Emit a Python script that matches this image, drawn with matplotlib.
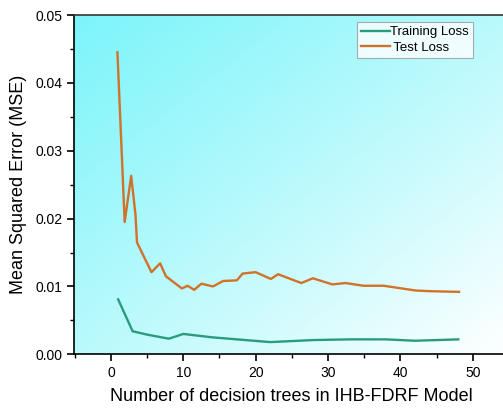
import numpy as np
import matplotlib
matplotlib.use("Agg")
import matplotlib.pyplot as plt
from matplotlib.ticker import MultipleLocator

plt.rcParams['font.family'] = ['Liberation Sans', 'DejaVu Sans']

# data
train_x = [1, 3, 5, 8, 10, 14, 22, 28, 33, 38, 42, 48]
train_y = [0.0081, 0.0034, 0.0029, 0.0023, 0.0030, 0.0025, 0.0018,
           0.0021, 0.0022, 0.0022, 0.0020, 0.0022]

test_x = [0.9, 1.9, 2.8, 3.4, 3.6, 5.6, 6.8, 7.6, 9.8, 10.6, 11.5, 12.5,
          14.1, 15.5, 17.4, 18.2, 20.0, 22.1, 23.1, 26.3, 27.9, 30.6,
          32.4, 34.9, 37.7, 42.1, 44.1, 48.1]
test_y = [0.0445, 0.0195, 0.0263, 0.0205, 0.0165, 0.0121, 0.0134, 0.0115,
          0.0097, 0.0101, 0.0095, 0.0104, 0.0100, 0.0108, 0.0109, 0.0119,
          0.0121, 0.0111, 0.0118, 0.0105, 0.0112, 0.0103, 0.0105, 0.0101,
          0.0101, 0.0094, 0.0093, 0.0092]

fig = plt.figure(figsize=(5.03, 4.08), dpi=100)
ax = fig.add_axes([74 / 503, 53.7 / 408, 435 / 503, 339.3 / 408])

# diagonal cyan -> white background
n = 200
u, v = np.meshgrid(np.linspace(0, 1, n), np.linspace(1, 0, n))
t = np.clip((u + (1 - v)) / 2, 0, 1) ** 1.1
cyan = np.array([0.49, 0.96, 0.98])
white = np.array([1.0, 1.0, 1.0])
img = cyan[None, None, :] * (1 - t[..., None]) + white[None, None, :] * t[..., None]
ax.imshow(img, extent=[0, 1, 0, 1], transform=ax.transAxes, aspect='auto', zorder=0)

ax.plot(train_x, train_y, color='#2a9c7e', lw=1.7, label='Training Loss', zorder=3)
ax.plot(test_x, test_y, color='#d0722a', lw=1.7, label=' Test Loss', zorder=3)

ax.set_xlim(-5.1, 55)
ax.set_ylim(0, 0.05)
ax.xaxis.set_major_locator(MultipleLocator(10))
ax.xaxis.set_minor_locator(MultipleLocator(5))
ax.yaxis.set_major_locator(MultipleLocator(0.01))
ax.yaxis.set_minor_locator(MultipleLocator(0.005))
ax.yaxis.set_major_formatter(matplotlib.ticker.FormatStrFormatter('%.2f'))
ax.tick_params(which='major', direction='out', length=5, width=1.2, labelsize=10)
ax.tick_params(which='minor', direction='out', length=3, width=1.0)
for s in ax.spines.values():
    s.set_linewidth(1.2)
ax.spines['top'].set_color('#333333')

ax.set_xlabel('Number of decision trees in IHB-FDRF Model', fontsize=13, labelpad=6)
ax.set_ylabel('Mean Squared Error (MSE)', fontsize=13, labelpad=6)

leg = ax.legend(loc='upper left', bbox_to_anchor=(0.651, 0.979), fontsize=9.5,
                frameon=True, fancybox=False, handlelength=2.2, handletextpad=0.0,
                borderpad=0.3, labelspacing=0.25, borderaxespad=0)
leg.get_frame().set_edgecolor('#999999')
leg.get_frame().set_linewidth(0.8)

fig.savefig('out.png', dpi=100)
